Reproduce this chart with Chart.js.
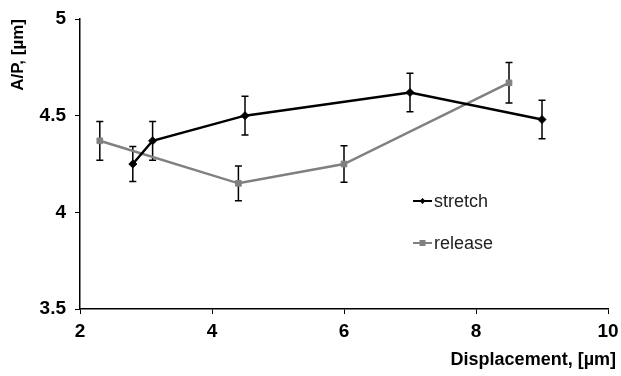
<!DOCTYPE html>
<html>
<head>
<meta charset="utf-8">
<script src="https://cdn.jsdelivr.net/npm/chart.js@4/dist/chart.umd.min.js"></script>
<style>
  html, body { margin: 0; padding: 0; background: #fff; }
</style>
</head>
<body>
<canvas id="c" width="621" height="376"></canvas>
<script>
// data
const stretchX = [2.8, 3.1, 4.5, 7.0, 9.0];
const stretchY = [4.25, 4.37, 4.50, 4.62, 4.48];
const stretchErr = [0.09, 0.10, 0.10, 0.10, 0.10];

const releaseX = [2.3, 4.4, 6.0, 8.5];
const releaseY = [4.37, 4.15, 4.25, 4.67];
const releaseErr = [0.10, 0.09, 0.095, 0.105];

const xTicks = [2, 4, 6, 8, 10];
const yTicks = [3.5, 4, 4.5, 5];

const FONT = "'Liberation Sans', Arial, sans-serif";

function toPoints(xs, ys) {
    return xs.map((x, i) => ({ x: x, y: ys[i] }));
}

// vertical error bars, drawn under the lines
const errorBars = {
    id: 'errorBars',
    beforeDatasetsDraw(chart) {
        const ctx = chart.ctx;
        const xs = chart.scales.x, ys = chart.scales.y;
        ctx.save();
        ctx.strokeStyle = '#000';
        ctx.lineWidth = 1.5;
        chart.data.datasets.forEach(ds => {
            ds.data.forEach((p, i) => {
                const e = ds.errors[i];
                const px = xs.getPixelForValue(p.x);
                const top = ys.getPixelForValue(p.y + e);
                const bot = ys.getPixelForValue(p.y - e);
                ctx.beginPath();
                ctx.moveTo(px, top); ctx.lineTo(px, bot);
                ctx.moveTo(px - 3.5, top); ctx.lineTo(px + 3.5, top);
                ctx.moveTo(px - 3.5, bot); ctx.lineTo(px + 3.5, bot);
                ctx.stroke();
            });
        });
        ctx.restore();
    }
};

// axis titles and the legend inside the plot
const extras = {
    id: 'extras',
    afterDraw(chart) {
        const ctx = chart.ctx;
        ctx.save();
        ctx.fillStyle = '#000';
        ctx.font = 'bold 17px ' + FONT;

        // y title, rotated, top aligned
        ctx.save();
        ctx.translate(18, 19);
        ctx.rotate(-Math.PI / 2);
        ctx.textAlign = 'right';
        ctx.textBaseline = 'middle';
        ctx.fillText('A/P, [µm]', 0, 0);
        ctx.restore();

        // x title, right aligned
        ctx.font = 'bold 18px ' + FONT;
        ctx.textAlign = 'right';
        ctx.textBaseline = 'middle';
        ctx.fillText('Displacement, [µm]', 616, 360);

        // legend
        ctx.font = '18px ' + FONT;
        ctx.textAlign = 'left';
        const rows = [201, 243];
        chart.data.datasets.forEach((ds, i) => {
            const y = rows[i];
            ctx.strokeStyle = ds.borderColor;
            ctx.lineWidth = 2;
            ctx.beginPath();
            ctx.moveTo(413, y); ctx.lineTo(432, y);
            ctx.stroke();
            ctx.fillStyle = ds.pointBackgroundColor;
            ctx.beginPath();
            if (ds.pointStyle === 'rectRot') {
                ctx.moveTo(422.5, y - 3); ctx.lineTo(425.5, y);
                ctx.lineTo(422.5, y + 3); ctx.lineTo(419.5, y);
                ctx.closePath(); ctx.fill();
            } else {
                ctx.fillRect(419.5, y - 3, 6, 6);
            }
            ctx.fillStyle = '#222';
            ctx.fillText(ds.label, 434, y + 1);
        });
        ctx.restore();
    }
};

new Chart(document.getElementById('c'), {
    type: 'scatter',
    data: {
        datasets: [
            {
                label: 'stretch',
                data: toPoints(stretchX, stretchY),
                errors: stretchErr,
                showLine: true,
                borderColor: '#000',
                borderWidth: 2.5,
                pointStyle: 'rectRot',
                pointRadius: 4,
                pointBackgroundColor: '#000',
                pointBorderColor: '#000',
                pointBorderWidth: 1
            },
            {
                label: 'release',
                data: toPoints(releaseX, releaseY),
                errors: releaseErr,
                showLine: true,
                borderColor: '#808080',
                borderWidth: 2.5,
                pointStyle: 'rect',
                pointRadius: 4,
                pointBackgroundColor: '#808080',
                pointBorderColor: '#808080',
                pointBorderWidth: 1
            }
        ]
    },
    options: {
        responsive: false,
        animation: false,
        layout: { padding: { top: 19, right: 13, left: 0, bottom: 0 } },
        plugins: {
            legend: { display: false },
            tooltip: { enabled: false }
        },
        scales: {
            x: {
                type: 'linear',
                min: 2, max: 10,
                afterFit: s => { s.height = 67; s.paddingLeft = 0; s.paddingRight = 0; },
                afterBuildTicks: s => { s.ticks = xTicks.map(v => ({ value: v })); },
                grid: { drawOnChartArea: false, drawTicks: true, tickLength: 5, color: '#000', lineWidth: 1 },
                border: { color: '#000', width: 1.5 },
                ticks: { color: '#000', font: { family: FONT, size: 19, weight: 'bold' }, padding: 6, maxRotation: 0 }
            },
            y: {
                min: 3.5, max: 5,
                afterFit: s => { s.width = 80; s.paddingTop = 0; s.paddingBottom = 0; },
                afterBuildTicks: s => { s.ticks = yTicks.map(v => ({ value: v })); },
                grid: { drawOnChartArea: false, drawTicks: true, tickLength: 5, color: '#000', lineWidth: 1 },
                border: { color: '#000', width: 1.5 },
                ticks: {
                    color: '#000', font: { family: FONT, size: 19, weight: 'bold' }, padding: 9,
                    callback: v => String(v)
                }
            }
        }
    },
    plugins: [errorBars, extras]
});
</script>
</body>
</html>
